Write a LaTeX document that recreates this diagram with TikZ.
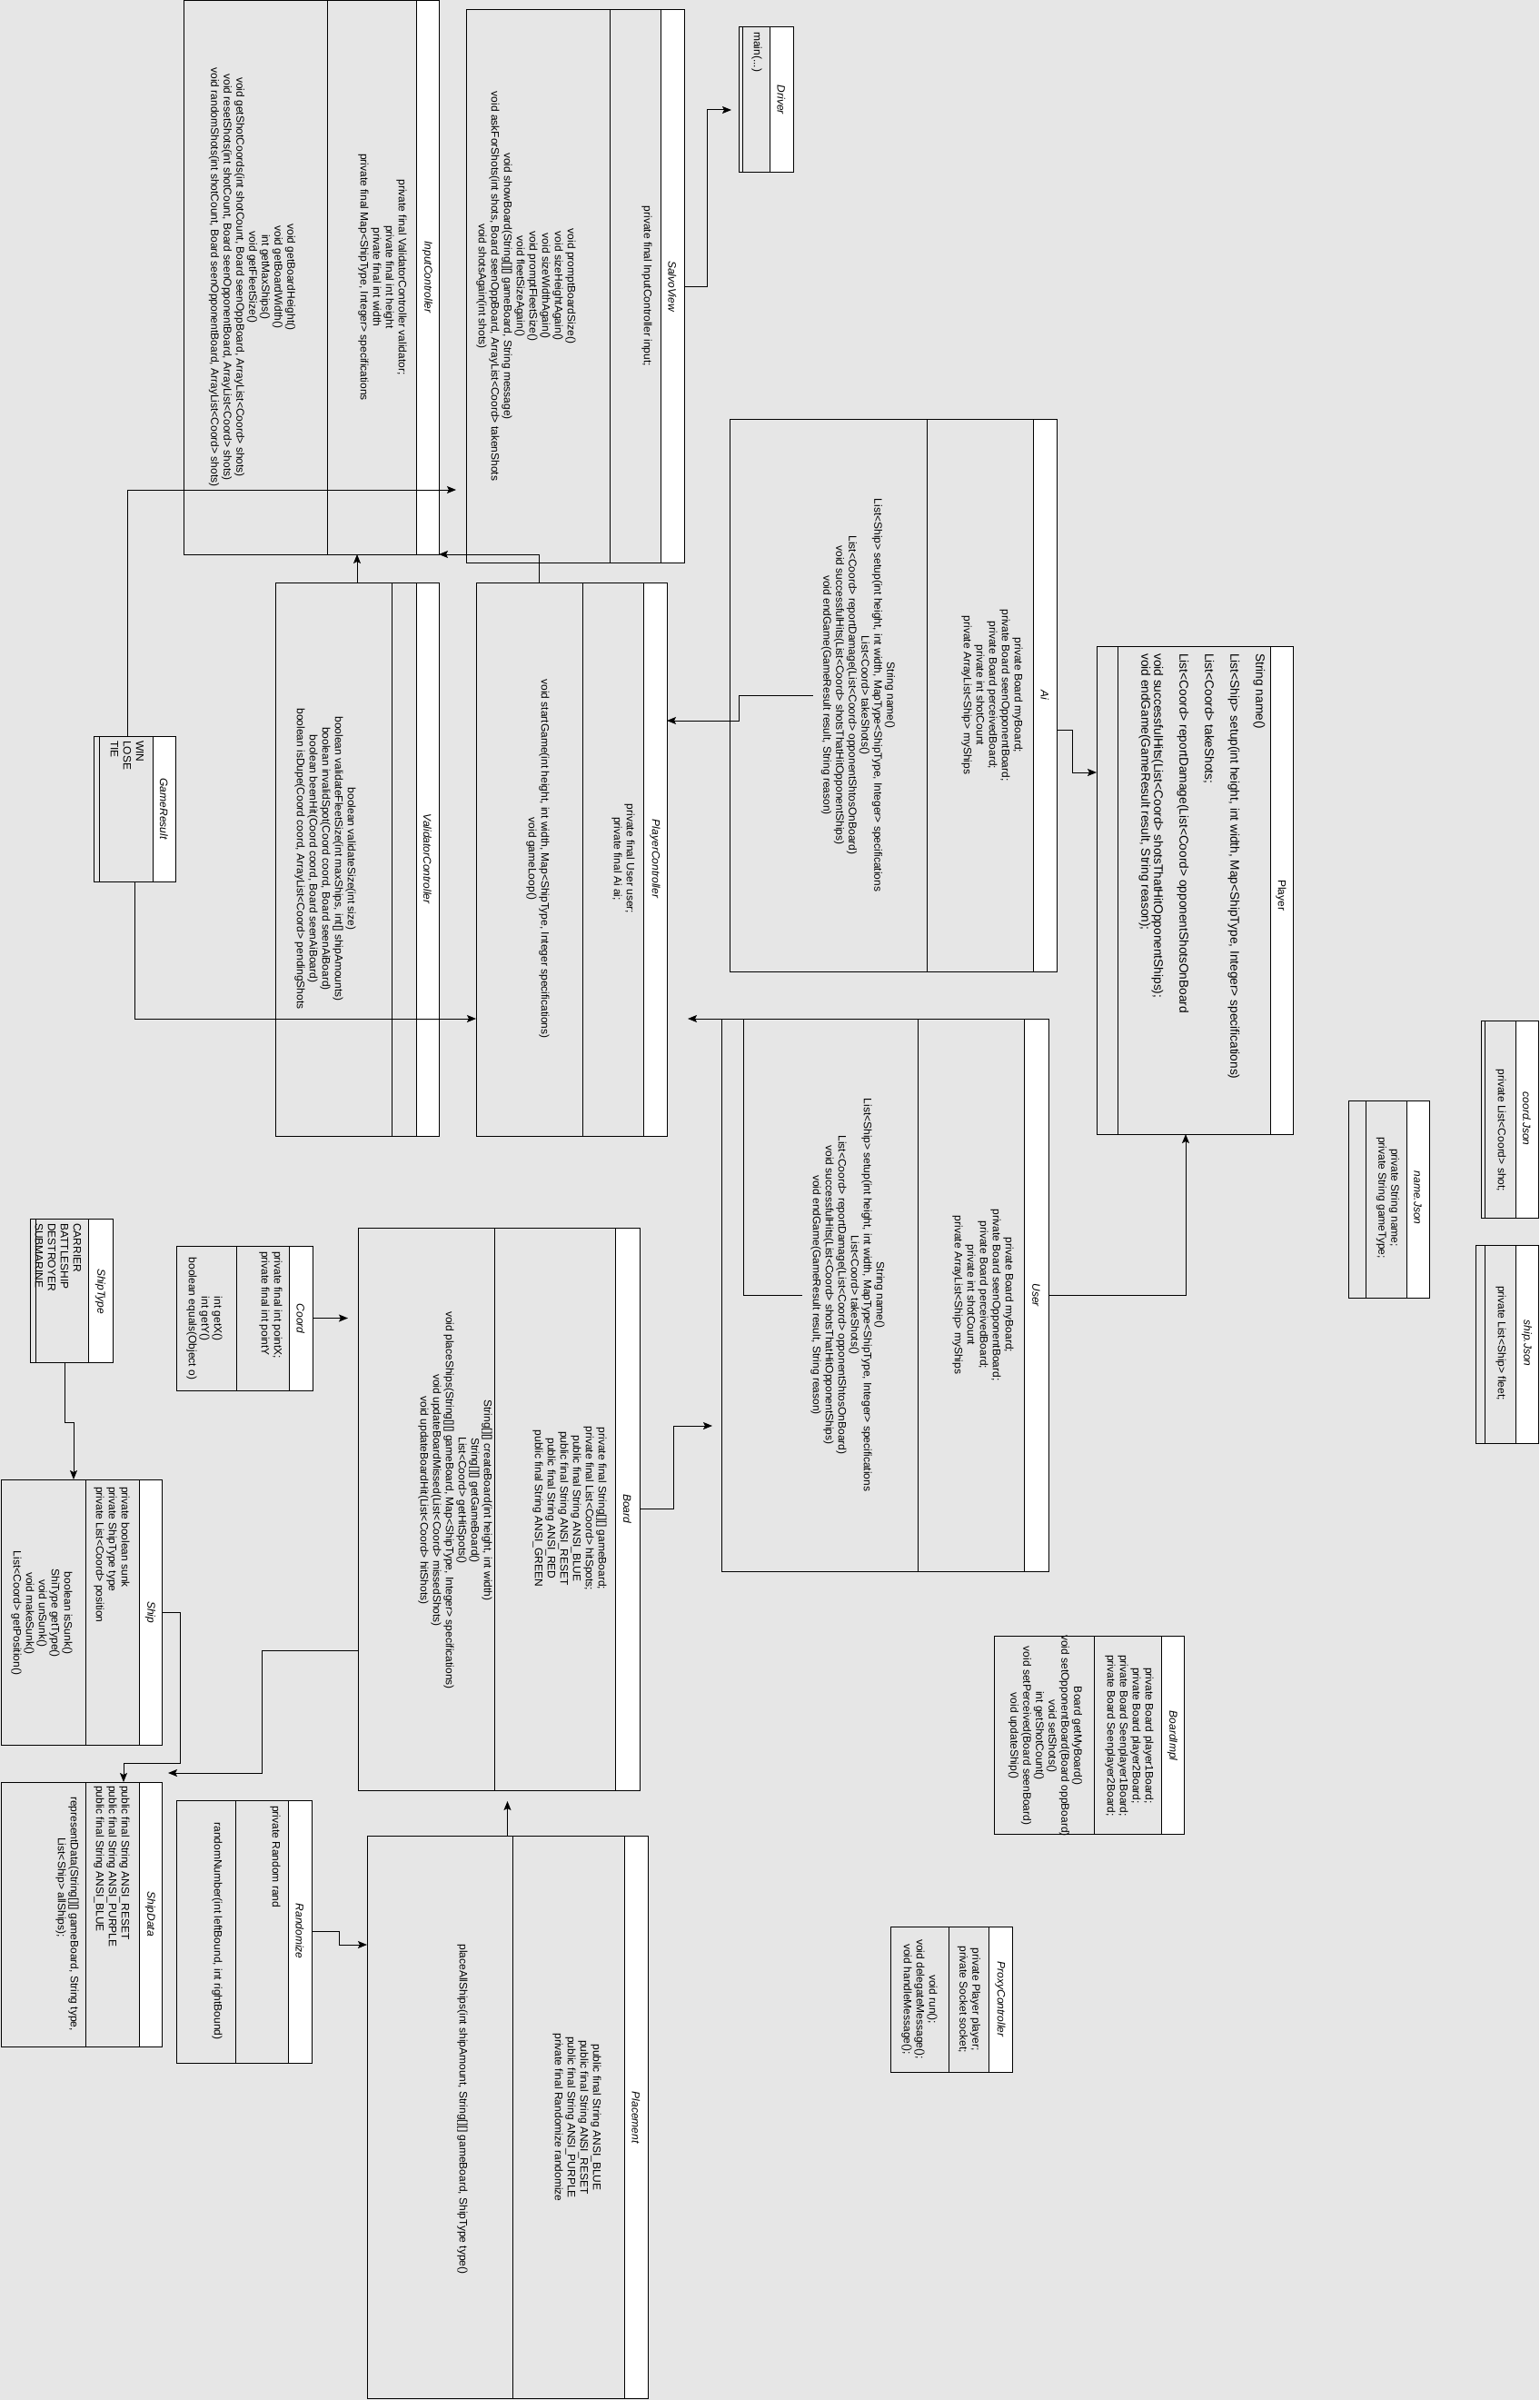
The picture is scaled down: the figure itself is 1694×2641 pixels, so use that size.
\documentclass[tikz,border=0pt]{standalone}
\usepackage{fontspec}
\setmainfont{Liberation Sans}
\usetikzlibrary{arrows.meta}

\definecolor{bgray}{HTML}{E6E6E6}
\newcommand{\umlfont}{\fontsize{12}{14}\selectfont}
\newcommand{\bigumlfont}{\fontsize{13.7}{14}\selectfont}

% class box: name, left, top, right, bottom, divider, name line
\newcommand{\umlclass}[7]{%
  \node[classbox, minimum width={(#4-#2)*1pt}, minimum height={(#5-#3)*1pt}] (#1) at ({(#2+#4)/2},{(#3+#5)/2}) {};
  \fill[white] (#7,#3) rectangle (#4,#5);
  \draw[line width=1pt] (#2,#3) rectangle (#4,#5) (#6,#3) -- (#6,#5) (#7,#3) -- (#7,#5);
}

\tikzset{
  classbox/.style={fill=bgray, inner sep=0pt, outer sep=0pt},
  txt/.style={rotate=-90, inner sep=0pt, font=\umlfont, align=center},
  ltxt/.style={txt, align=left, anchor=west},
  title/.style={txt, font=\umlfont\itshape},
  conn/.style={line width=1pt, -{Stealth[length=10pt,width=8pt,inset=2pt]}},
}

\begin{document}
\begin{tikzpicture}[x=1pt,y=-1pt]
  \fill[bgray] (0,0) rectangle (1694,2641);
  \useasboundingbox (0,0) rectangle (1694,2641);

  % boxes
  \umlclass{ic}{202}{1}{483}{610}{360}{458}
  \umlclass{sv}{513}{11}{753}{619}{671}{727}
  \umlclass{dr}{813}{30}{873}{190}{817}{847}
  \umlclass{ai}{803}{461}{1163}{1069}{1020}{1137}
  \umlclass{pl}{1207}{711}{1423}{1248}{1230}{1398}
  \umlclass{pc}{524}{641}{734}{1250}{641}{708}
  \umlclass{vc}{303}{641}{483}{1250}{431}{458}
  \umlclass{gr}{103}{810}{193}{970}{109}{168}
  \umlclass{us}{794}{1121}{1154}{1729}{1010}{1127}
  \umlclass{bd}{394}{1351}{704}{1970}{544}{677}
  \umlclass{co}{194}{1371}{344}{1530}{260}{318}
  \umlclass{st}{33}{1341}{124}{1499}{39}{97}
  \umlclass{sh}{1}{1628}{178}{1920}{94}{153}
  \umlclass{sd}{1}{1961}{178}{2252}{94}{153}
  \umlclass{rz}{194}{1981}{343}{2270}{259}{317}
  \umlclass{pm}{404}{2020}{713}{2639}{564}{687}
  \umlclass{bi}{1094}{1800}{1303}{2018}{1204}{1278}
  \umlclass{px}{980}{2120}{1114}{2280}{1044}{1088}
  \umlclass{cj}{1630}{1123}{1693}{1340}{1634}{1668}
  \umlclass{nj}{1484}{1211}{1573}{1428}{1503}{1548}
  \umlclass{sj}{1624}{1370}{1693}{1588}{1634}{1668}

  % InputController
  \node[title] (ic-t) at (470.5,305) {InputController};
  \node[txt] (ic-a) at (421,305) {private final ValidatorController validator;\\private final int height\\private final int width\\private final Map<ShipType, Integer> specifications};
  \node[txt] (ic-m) at (277.5,305) {void getBoardHeight()\\void getBoardWidth()\\int getMaxShips()\\void getFleetSize()\\void getShotCoords(int shotCount, Board seenOppBoard, ArrayList<Coord> shots)\\void resetShots(int shotCount, Board seenOpponentBoard, ArrayList<Coord> shots)\\void randomShots(int shotCount, Board seenOpponentBoard, ArrayList<Coord> shots)};

  % SalvoView
  \node[title] (sv-t) at (740,315) {SalvoView};
  \node[txt] (sv-a) at (712,315) {private final InputController input;};
  \node[txt] (sv-m) at (579,315) {void promptBoardSize()\\void sizeHeightAgain()\\void sizeWidthAgain()\\void promptFleetSize()\\void fleetSizeAgain()\\void showBoard(String[][] gameBoard, String message)\\void askForShots(int shots, Board seenOppBoard, ArrayList<Coord> takenShots\\void shotsAgain(int shots)};

  % Driver
  \node[title] (dr-t) at (860,110) {Driver};
  \node[ltxt] (dr-a) at (833,35) {main(...)};

  % Ai
  \node[title] (ai-t) at (1150,765) {Ai};
  \node[txt] (ai-a) at (1092,765) {private Board myBoard;\\private Board seenOpponentBoard;\\private Board perceivedBoard;\\private int shotCount\\private ArrayList<Ship> myShips};
  \node[txt] (ai-m) at (944.5,765) {String name()\\List<Ship> setup(int height, int width, MapType<ShipType, Integer> specifications\\List<Coord> takeShots()\\List<Coord> reportDamage(List<Coord> opponentShtosOnBoard)\\void successfulHits(List<Coord> shotsThatHitOpponentShips)\\void endGame(GameResult result, String reason)};

  % Player
  \node[txt, font=\umlfont] (pl-t) at (1410,985) {Player};
  \node[ltxt, font=\bigumlfont] (pl-a) at (1323,719) {String name()\\[14pt]List<Ship> setup(int height, int width, Map<ShipType, Integer> specifications)\\[14pt]List<Coord> takeShots;\\[14pt]List<Coord> reportDamage(List<Coord> opponentShotsOnBoard\\[14pt]void successfulHits(List<Coord> shotsThatHitOpponentShips);\\void endGame(GameResult result, String reason);};

  % PlayerController
  \node[title] (pc-t) at (721,945) {PlayerController};
  \node[txt] (pc-a) at (686,945) {private final User user;\\private final Ai ai;};
  \node[txt] (pc-m) at (592,945) {void startGame(int height, int width, Map<ShipType, Integer specifications)\\void gameLoop()};

  % ValidatorController
  \node[title] (vc-t) at (470.5,945) {ValidatorController};
  \node[txt] (vc-m) at (358,945) {boolean validateSize(int size)\\boolean validateFleetSize(int maxShips, int[] shipAmounts)\\boolean invalidSpot(Coord coord, Board seenAiBoard)\\boolean beenHit(Coord coord, Board seenAiBoard)\\boolean isDupe(Coord coord, ArrayList<Coord> pendingShots};

  % GameResult
  \node[title] (gr-t) at (180.5,890) {GameResult};
  \node[ltxt] (gr-a) at (140,815) {WIN\\LOSE\\TIE};

  % User
  \node[title] (us-t) at (1140.5,1425) {User};
  \node[txt] (us-a) at (1082,1425) {private Board myBoard;\\private Board seenOpponentBoard;\\private Board perceivedBoard;\\private int shotCount\\private ArrayList<Ship> myShips};
  \node[txt] (us-m) at (933,1425) {String name()\\List<Ship> setup(int height, int width, MapType<ShipType, Integer> specifications\\List<Coord> takeShots()\\List<Coord> reportDamage(List<Coord> opponentShtosOnBoard)\\void successfulHits(List<Coord> shotsThatHitOpponentShips)\\void endGame(GameResult result, String reason)};

  % Board
  \node[title] (bd-t) at (690.5,1660) {Board};
  \node[txt] (bd-a) at (627,1660) {private final String[][] gameBoard;\\private final List<Coord> hitSpots;\\public final String ANSI\_BLUE\\public final String ANSI\_RESET\\public final String ANSI\_RED\\public final String ANSI\_GREEN};
  \node[txt] (bd-m) at (501,1651) {String[][] createBoard(int height, int width)\\String[][] getGameBoard()\\List<Coord> getHitSpots()\\void placeShips(String[][] gameBoard, Map<ShipType, Integer> specifications)\\void updateBoardMissed(List<Coord> missedShots)\\void updateBoardHit(List<Coord> hitShots)};

  % Coord
  \node[title] (co-t) at (331,1451) {Coord};
  \node[ltxt] (co-a) at (298,1377) {private final int pointX;\\private final int pointY};
  \node[txt] (co-m) at (225,1451) {int getX()\\int getY()\\boolean equals(Object o)};

  % ShipType
  \node[title] (st-t) at (110.5,1421) {ShipType};
  \node[ltxt] (st-a) at (64,1346) {CARRIER\\BATTLESHIP\\DESTROYER\\SUBMARINE};

  % Ship
  \node[title] (sh-t) at (165.5,1774) {Ship};
  \node[ltxt] (sh-a) at (123,1636) {private boolean sunk\\private ShipType type\\private List<Coord> position};
  \node[txt] (sh-m) at (46,1775) {boolean isSunk()\\ShiType getType()\\void unSunk()\\void makeSunk()\\List<Coord> getPosition()};

  % ShipData
  \node[title] (sd-t) at (165.5,2106) {ShipData};
  \node[ltxt] (sd-a) at (123,1965) {public final String ANSI\_RESET\\public final String ANSI\_PURPLE\\public final String ANSI\_BLUE};
  \node[txt] (sd-m) at (74,2106) {representData(String[][] gameBoard, String type,\\List<Ship> allShips);\hspace*{58pt}};

  % Randomize
  \node[title] (rz-t) at (330,2125) {Randomize};
  \node[ltxt] (rz-a) at (303,1987) {private Random rand};
  \node[txt] (rz-m) at (239,2125) {randomNumber(int leftBound, int rightBound)};

  % Placement
  \node[title] (pm-t) at (700,2330) {Placement};
  \node[txt] (pm-a) at (635,2330) {public final String ANSI\_BLUE\\public final String ANSI\_RESET\\public final String ANSI\_PURPLE\\private final Randomize randomize};
  \node[txt] (pm-m) at (509,2321) {placeAllShips(int shipAmount, String[][] gameBoard, ShipType type()};

  % BoardImpl
  \node[title] (bi-t) at (1290.5,1910) {BoardImpl};
  \node[txt] (bi-a) at (1243,1910) {private Board player1Board;\\private Board player2Board;\\private Board Seenplayer1Board;\\private Board Seenplayer2Board;};
  \node[txt] (bi-m) at (1150.5,1910) {Board getMyBoard()\\void setOpponentBoard(Board oppBoard)\\void setShots()\\int getShotCount()\\void setPerceived(Board seenBoard)\\void updateShip()};

  % ProxyController
  \node[title] (px-t) at (1101,2200) {ProxyController};
  \node[txt] (px-a) at (1066.5,2200) {private Player player;\\private Socket socket;};
  \node[txt] (px-m) at (1012,2200) {void run();\\void delegateMessage();\\void handleMessage();};

  % json classes
  \node[title] (cj-t) at (1680.5,1231) {coord.Json};
  \node[txt] (cj-a) at (1652,1244) {private List<Coord> shot;};
  \node[title] (nj-t) at (1560.5,1318) {name.Json};
  \node[txt] (nj-a) at (1527.5,1318) {private String name;\\private String gameType;};
  \node[title] (sj-t) at (1680.5,1478) {ship.Json};
  \node[txt] (sj-a) at (1652,1478) {private List<Ship> fleet;};

  % connectors
  \coordinate (usend) at (757,1121);
  \coordinate (bdend) at (185,1951);
  \draw[conn, shorten >=8pt] (sv.east) -| (778,121) -- (dr.west |- 0,121);
  \draw[conn, shorten >=11pt] ([xshift=-8pt]gr.north) |- (sv.west |- 0,539);
  \draw[conn] (gr.south) |- (pc.west |- 0,1121);
  \draw[conn] (pc.north -| 593,0) |- (ic.east |- 0,610);
  \draw[conn] (vc.north) -- (vc.north |- ic.south);
  \draw[conn] ([xshift=-9pt]ai-m.south) -| (813,793) -- (pc.east |- 0,793);
  \draw[conn] (ai.east |- 0,803) -| (1180,850) -- (pl.west |- 0,850);
  \draw[conn] ([xshift=-9pt]us-m.south) -| (818,1121) -- (usend);
  \draw[conn] (us.east) -| (pl.south -| 1305,0);
  \draw[conn, shorten >=10pt] (bd.east) -| (741,1569) -- (us.west |- 0,1569);
  \draw[conn, shorten >=11pt] (co.east) -- (co.east -| bd.west);
  \draw[conn] (bd.west |- 0,1816) -| (288,1951) -- (bdend);
  \draw[conn] (sh.east) -| (198,1940) -| (sd.north -| 136,0);
  \draw[conn] (st.south -| 71,0) |- (81,1565) -- (sh.north -| 81,0);
  \draw[conn] (rz.east) -| (373,2140) -- (pm.west |- 0,2140);
  \draw[conn, shorten >=12pt] (pm.north) -- (pm.north |- bd.south);
\end{tikzpicture}
\end{document}
